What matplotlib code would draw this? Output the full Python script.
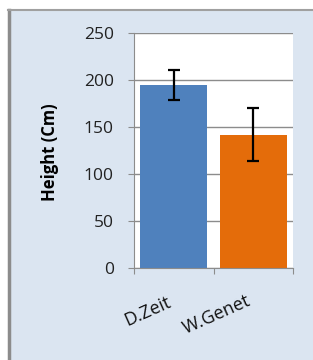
import numpy as np
import matplotlib.pyplot as plt
from matplotlib.patches import Rectangle

# Data
categories = ["D.Zeit", "W.Genet"]
heights = [195, 142]
errors = [16, 28.5]
colors = ["#4f81bd", "#e46c0a"]

plt.rcParams['font.family'] = ['Open Sans', 'DejaVu Sans']

W, H = 313, 360
fig = plt.figure(figsize=(W / 100, H / 100), dpi=100)
fig.patch.set_facecolor("white")

# light blue chart panel with a gray frame on top/left
panel = Rectangle((9 / W, 0), 1 - 9 / W, 1 - 11 / H, transform=fig.transFigure,
                  facecolor="#dbe5f1", edgecolor="none", zorder=-2)
fig.add_artist(panel)
fig.add_artist(plt.Line2D([9 / W, 9 / W], [0, 1 - 10 / H], transform=fig.transFigure,
                          color="#8c8c8c", lw=2.5, zorder=-1))
fig.add_artist(plt.Line2D([8 / W, 1], [1 - 10 / H, 1 - 10 / H], transform=fig.transFigure,
                          color="#a0a0a0", lw=1.5, zorder=-1))

ax = fig.add_axes([134 / W, 1 - 268 / H, (293 - 134) / W, (268 - 33) / H])
ax.set_zorder(2)
ax.set_facecolor("white")

x = np.arange(len(categories))
ax.bar(x, heights, width=0.84, color=colors, zorder=2)
ax.errorbar(x, heights, yerr=errors, fmt="none", ecolor="black", elinewidth=1.6,
            capsize=4, capthick=1.6, zorder=3)

ax.set_xlim(-0.5, 1.5)
ax.set_ylim(0, 250)
ax.set_yticks(np.arange(0, 251, 50))
ax.yaxis.grid(True, color="#8c8c8c", lw=1)
ax.set_axisbelow(True)

for s in ["top", "right"]:
    ax.spines[s].set_visible(False)
ax.spines["left"].set_color("#8c8c8c")
ax.spines["bottom"].set_color("#8c8c8c")

ax.tick_params(axis="y", length=4.5, color="#8c8c8c", labelsize=12.5, pad=10, labelcolor="#222222")
ax.set_xticks([-0.5, 0.5, 1.5])
ax.set_xticklabels([])
ax.tick_params(axis="x", length=4, color="#8c8c8c")

# rotated category labels, placed in pixel positions of the figure
fig.text(148 / W, 1 - 311 / H, categories[0], rotation=24, ha="center", va="center",
         fontsize=13, color="#111111")
fig.text(217 / W, 1 - 315 / H, categories[1], rotation=24, ha="center", va="center",
         fontsize=13, color="#111111")

fig.text(50 / W, 1 - 152 / H, "Height (Cm)", rotation=90, ha="center", va="center",
         fontsize=12, fontweight="bold")

fig.savefig("out.png", dpi=100)
